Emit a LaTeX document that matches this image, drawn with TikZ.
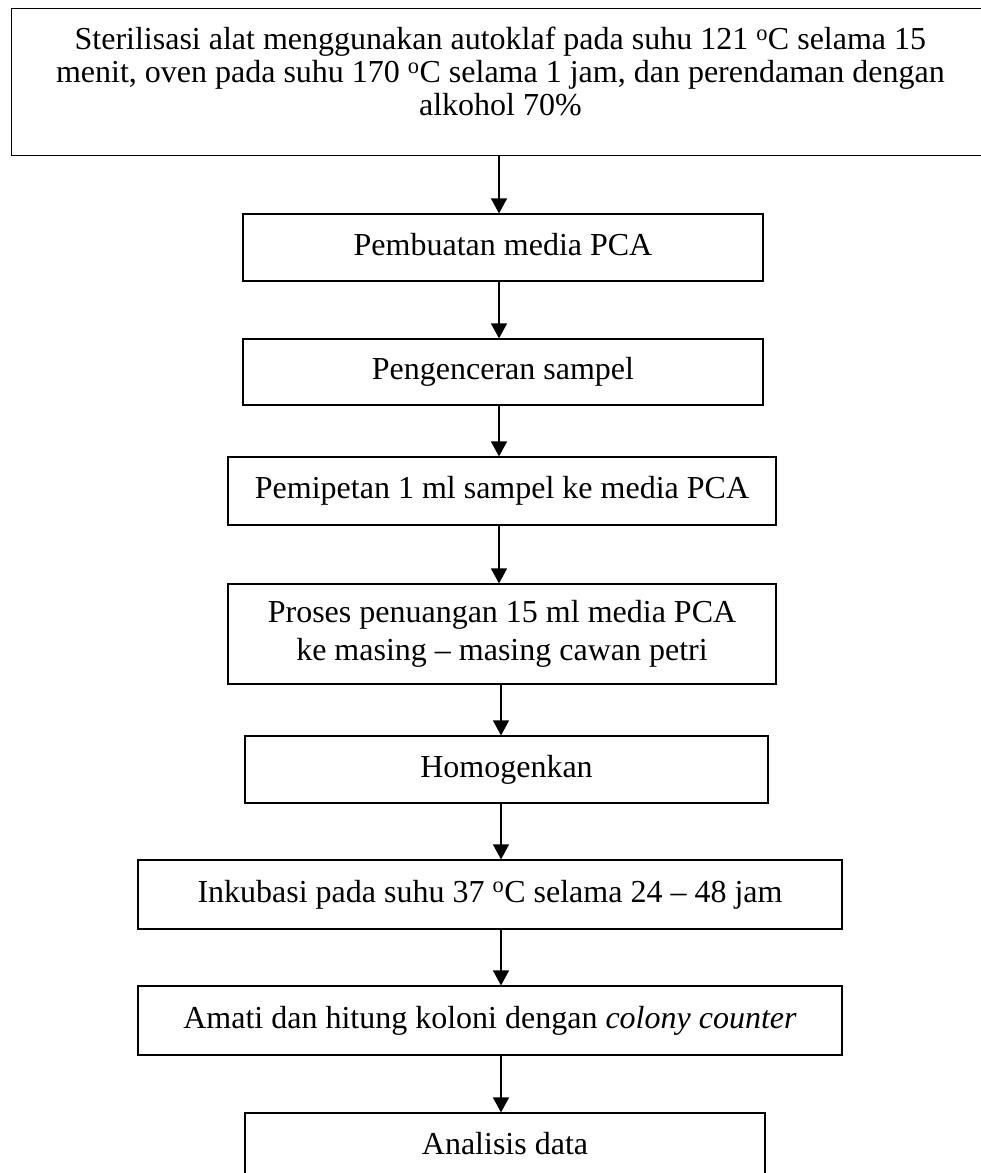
\documentclass[tikz,border=0pt]{standalone}
\usepackage{fontspec}
\setmainfont{Liberation Serif}
\usetikzlibrary{arrows.meta}
\begin{document}
\begin{tikzpicture}[x=1pt,y=-1pt,
  stepbox/.style={draw, line width=1.2pt, inner sep=0pt, align=center,
    font=\fontsize{32}{38}\selectfont, text height=22pt, text depth=7pt},
  arr/.style={line width=1.2pt, -{Triangle[length=15pt,width=16pt]}}]
\path[use as bounding box, clip] (0,0) rectangle (981,1173);
\fill[white] (0,0) rectangle (981,1173);
\node[stepbox, minimum width=978pt, minimum height=147pt,
  font=\fontsize{32}{33}\selectfont, text height=88pt, text depth=21pt] (b1) at (500.4,82.3)
  {Sterilisasi alat menggunakan autoklaf pada suhu 121 \textsuperscript{o}C selama 15\\
   menit, oven pada suhu 170 \textsuperscript{o}C selama 1 jam, dan perendaman dengan\\
   alkohol 70\%};
\node[stepbox, minimum width=520pt, minimum height=67pt] (b2) at (503,247.5) {Pembuatan media PCA};
\node[stepbox, minimum width=520pt, minimum height=66pt] (b3) at (503,372) {Pengenceran sampel};
\node[stepbox, minimum width=548pt, minimum height=68pt] (b4) at (502,491) {Pemipetan 1 ml sampel ke media PCA};
\node[stepbox, minimum width=548pt, minimum height=100pt, text height=60pt, text depth=7pt] (b5) at (502,634)
  {Proses penuangan 15 ml media PCA\\ ke masing – masing cawan petri};
\node[stepbox, minimum width=523pt, minimum height=67pt] (b6) at (506.5,769.5) {Homogenkan};
\node[stepbox, minimum width=704pt, minimum height=69pt] (b7) at (490,894.5)
  {Inkubasi pada suhu 37 \textsuperscript{o}C selama 24 – 48 jam};
\node[stepbox, minimum width=704pt, minimum height=69pt] (b8) at (490,1020.5)
  {Amati dan hitung koloni dengan \textit{colony counter}};
\node[stepbox, minimum width=520pt, minimum height=67pt] (b9) at (505,1146.5) {Analisis data};
\coordinate (ax1) at (499,0);
\coordinate (ax2) at (501,0);
\draw[arr] (b1.south -| ax1) -- (b2.north -| ax1);
\draw[arr] (b2.south -| ax1) -- (b3.north -| ax1);
\draw[arr] (b3.south -| ax1) -- (b4.north -| ax1);
\draw[arr] (b4.south -| ax1) -- (b5.north -| ax1);
\draw[arr] (b5.south -| ax2) -- (b6.north -| ax2);
\draw[arr] (b6.south -| ax2) -- (b7.north -| ax2);
\draw[arr] (b7.south -| ax2) -- (b8.north -| ax2);
\draw[arr] (b8.south -| ax2) -- (b9.north -| ax2);
\end{tikzpicture}
\end{document}
